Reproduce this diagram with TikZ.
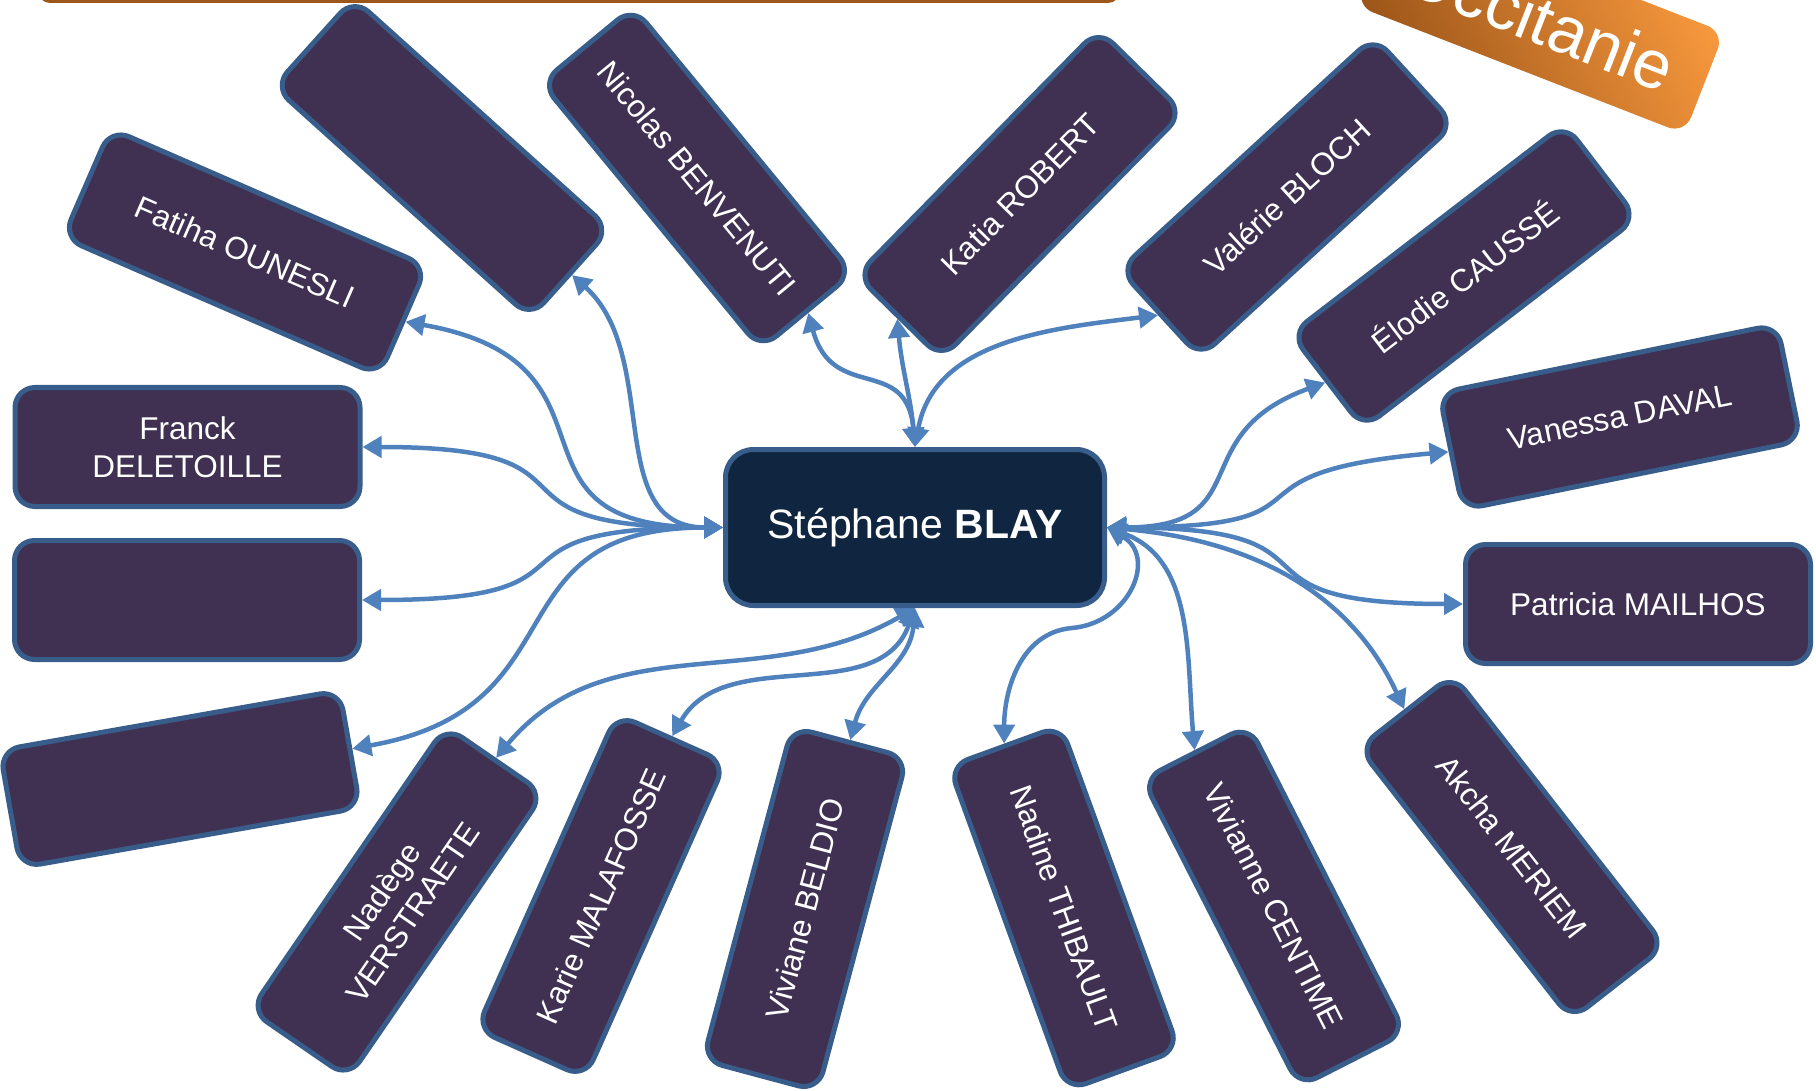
\documentclass[tikz,border=0pt]{standalone}
\usepackage{fontspec}
\setmainfont{Liberation Sans}
\usetikzlibrary{arrows.meta,backgrounds}
\definecolor{boxc}{HTML}{403152}
\definecolor{bordc}{HTML}{385D8A}
\definecolor{hubc}{HTML}{10253F}
\definecolor{arrc}{HTML}{4F81BD}
\definecolor{barc}{HTML}{9C571B}
\definecolor{orl}{HTML}{FA9A3E}
\definecolor{ord}{HTML}{9A5418}
\begin{document}
\begin{tikzpicture}[x=1pt,y=1pt,
  pbox/.style={rectangle, rounded corners=20pt, draw=bordc, line width=5pt, fill=boxc,
    text=white, minimum width=345pt, minimum height=119pt, inner sep=0pt, align=center,
    font=\fontsize{31.5}{37.5}\selectfont},
  hub/.style={rectangle, rounded corners=28pt, draw=bordc, line width=5pt, fill=hubc,
    text=white, minimum width=379pt, minimum height=156pt, inner sep=0pt,
    font=\fontsize{41}{49}\selectfont},
  occbox/.style={rectangle, rounded corners=18pt, minimum width=353pt, minimum height=109pt,
    inner sep=0pt, top color=orl, bottom color=ord, shading angle=-65, text=white,
    font=\fontsize{68}{80}\selectfont},
  conn/.style={draw=arrc, line width=4.5pt, <->, >={Triangle[length=19pt,width=21pt]}}]
\useasboundingbox (0,0) rectangle (1816,-1091);
\begin{scope}
  \clip (0,0) rectangle (1816,-1091);
  \fill[barc, rounded corners=12pt] (38,40) rectangle (1120,-3);
  \node[occbox, rotate=-21.3] (occ) at (1540,-19) {Occitanie};
\end{scope}

\node[hub] (c) at (915,-527.5) {Stéphane \textbf{BLAY}};

\node[pbox, rotate=-23.5] (fat) at (245,-252) {Fatiha OUNESLI};
\node[pbox, rotate=-42] (e1) at (442,-158) {};
\node[pbox, rotate=-50.5] (nic) at (697,-178) {Nicolas BENVENUTI};
\node[pbox, rotate=45.5] (kat) at (1020,-194) {Katia ROBERT};
\node[pbox, rotate=42.5] (val) at (1287,-197) {Valérie BLOCH};
\node[pbox, rotate=37.5] (elo) at (1464,-276) {Élodie CAUSSÉ};
\node[pbox, rotate=11.5] (van) at (1620,-417) {Vanessa DAVAL};
\node[pbox] (pat) at (1638,-604) {Patricia MAILHOS};
\node[pbox, rotate=-52] (akc) at (1512,-847) {Akcha MERIEM};
\node[pbox, rotate=-63] (viv) at (1274,-906) {Vivianne CENTIME};
\node[pbox, rotate=-70] (nad) at (1064,-908) {Nadine THIBAULT};
\node[pbox, rotate=75] (bel) at (805,-909) {Viviane BELDIO};
\node[pbox, rotate=66] (kar) at (601,-896) {Karie MALAFOSSE};
\node[pbox, rotate=55.5] (ver) at (397,-902) {Nadège\\VERSTRAETE};
\node[pbox, rotate=10] (e3) at (180,-779) {};
\node[pbox] (e2) at (187,-600) {};
\node[pbox] (fra) at (187.5,-447) {Franck\\DELETOILLE};

\coordinate (nadbend) at (1072,-628);

\begin{scope}[on background layer]
  \draw[conn] (c.west) to[out=180,in=-10,looseness=1.6] (fat.east);
  \draw[conn] (c.west) to[out=180,in=-42,looseness=1.05] (e1.east);
  \draw[conn] (c.west) to[out=180,in=0,looseness=1.8] (fra.east);
  \draw[conn] (c.west) to[out=180,in=0,looseness=1.8] (e2.east);
  \draw[conn] (c.west) to[out=180,in=10,looseness=1.4] (e3.east);
  \draw[conn] (c.north) to[out=95,in=-75,looseness=1.4] (nic.east);
  \draw[conn] (c.north) to[out=95,in=-85,looseness=1] (kat.west);
  \draw[conn] (c.north) to[out=80,in=187,looseness=1] (val.west);
  \draw[conn] (c.east) to[out=0,in=200,looseness=1.5] (elo.west);
  \draw[conn] (c.east) to[out=0,in=185,looseness=1.8] (van.west);
  \draw[conn] (c.east) to[out=0,in=180,looseness=1.8] (pat.west);
  \draw[conn] (c.east) to[out=-5,in=115,looseness=1] (akc.west);
  \draw[conn] (c.east) to[out=-20,in=95,looseness=1] (viv.west);
  \draw[conn] (c.east) to[out=-30,in=5,looseness=1.4] (nadbend)
                       to[out=185,in=90,looseness=1] (nad.west);
  \draw[conn] (c.south) to[out=-150,in=50,looseness=1] (ver.east);
  \draw[conn] (c.south) to[out=-110,in=60,looseness=1] (kar.east);
  \draw[conn] (c.south) to[out=-95,in=75,looseness=1] (bel.east);
\end{scope}
\end{tikzpicture}
\end{document}
